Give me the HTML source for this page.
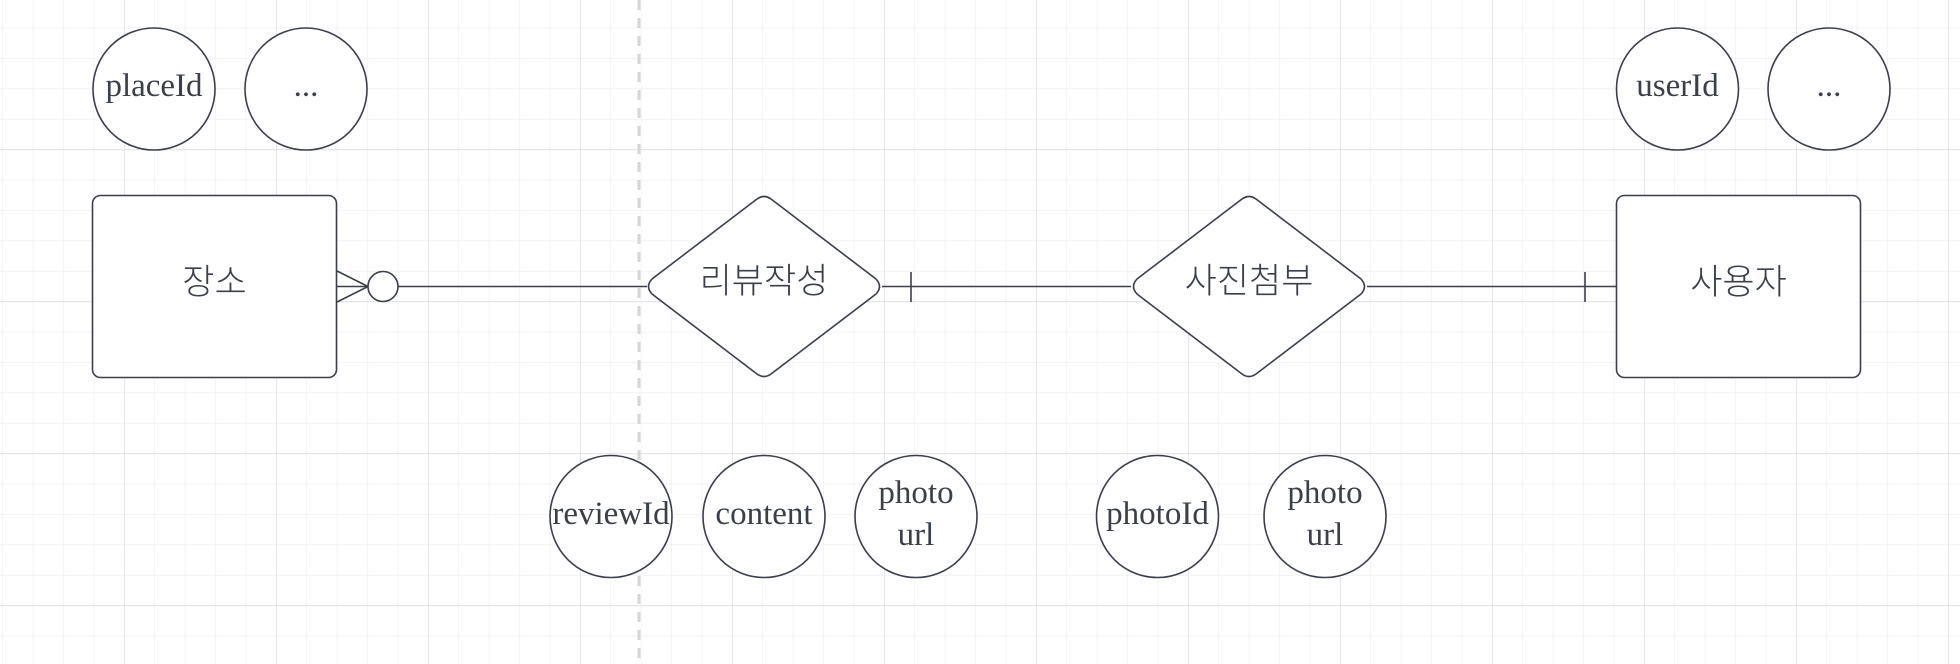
<!DOCTYPE html>
<html><head><meta charset="utf-8"><style>
html,body{margin:0;padding:0;background:#fff;}
svg{display:block}
.t{font-family:"Liberation Serif",serif;font-size:33px;fill:#3a3f4a;text-anchor:middle}
.k{font-family:"Liberation Sans","Noto Sans CJK KR",sans-serif;font-size:35px;font-weight:300;fill:#3a3f4a;text-anchor:middle}
</style></head><body>
<svg width="1960" height="664" xmlns="http://www.w3.org/2000/svg">
<defs>
<pattern id="g" x="2.4" y="27.7" width="30.4" height="30.4" patternUnits="userSpaceOnUse">
<path d="M0 0H30.4M0 0V30.4" stroke="#ececec" stroke-width="1.2" fill="none"/>
</pattern>
<pattern id="G" x="-28" y="-2.7" width="152" height="152" patternUnits="userSpaceOnUse">
<path d="M0 0H152M0 0V152" stroke="#dcdcdc" stroke-width="1.4" fill="none"/>
</pattern>
</defs>
<rect width="1960" height="664" fill="url(#g)"/>
<rect width="1960" height="664" fill="url(#G)"/>
<line x1="639" y1="0" x2="639" y2="664" stroke="#d6d6d6" stroke-width="3" stroke-dasharray="10,8"/>
<g stroke="#3a3f4a" stroke-width="1.6" fill="#fff">
<line x1="337" y1="286.5" x2="368" y2="286.5"/>
<line x1="337" y1="271" x2="368" y2="286.5"/>
<line x1="337" y1="302" x2="368" y2="286.5"/>
<line x1="398" y1="286.5" x2="647" y2="286.5"/>
<line x1="882" y1="286.5" x2="1131" y2="286.5"/>
<line x1="911" y1="272" x2="911" y2="302"/>
<line x1="1367" y1="286.5" x2="1616" y2="286.5"/>
<line x1="1585" y1="272" x2="1585" y2="302"/>
<circle cx="383" cy="286.5" r="15"/>
<rect x="92.5" y="195.5" width="244" height="182" rx="8"/>
<rect x="1616.5" y="195.5" width="244" height="182" rx="8"/>
<path d="M757 199 Q764 194 771 199 L876 279 Q883 286.5 876 294 L771 374 Q764 379 757 374 L652 294 Q645 286.5 652 279 Z"/>
<path d="M1242 199 Q1249 194 1256 199 L1361 279 Q1368 286.5 1361 294 L1256 374 Q1249 379 1242 374 L1137 294 Q1130 286.5 1137 279 Z"/>
<circle cx="154" cy="89" r="61"/>
<circle cx="306" cy="89" r="61"/>
<circle cx="1677.5" cy="89" r="61"/>
<circle cx="1829" cy="89" r="61"/>
<circle cx="611" cy="516.5" r="61"/>
<circle cx="764" cy="516.5" r="61"/>
<circle cx="916" cy="516.5" r="61"/>
<circle cx="1157.5" cy="516.5" r="61"/>
<circle cx="1325" cy="516.5" r="61"/>
</g>
<text class="t" x="154" y="96">placeId</text>
<text class="t" x="306" y="96">...</text>
<text class="t" x="1677.5" y="96">userId</text>
<text class="t" x="1829" y="96">...</text>
<text class="t" x="611" y="524">reviewId</text>
<text class="t" x="764" y="524">content</text>
<text class="t" x="916" y="503">photo</text>
<text class="t" x="916" y="545">url</text>
<text class="t" x="1157.5" y="524">photoId</text>
<text class="t" x="1325" y="503">photo</text>
<text class="t" x="1325" y="545">url</text>
<text class="k" x="214.5" y="294">장소</text>
<text class="k" x="1738.5" y="294">사용자</text>
<text class="k" x="764" y="293">리뷰작성</text>
<text class="k" x="1249" y="293">사진첨부</text>
</svg>
</body></html>
